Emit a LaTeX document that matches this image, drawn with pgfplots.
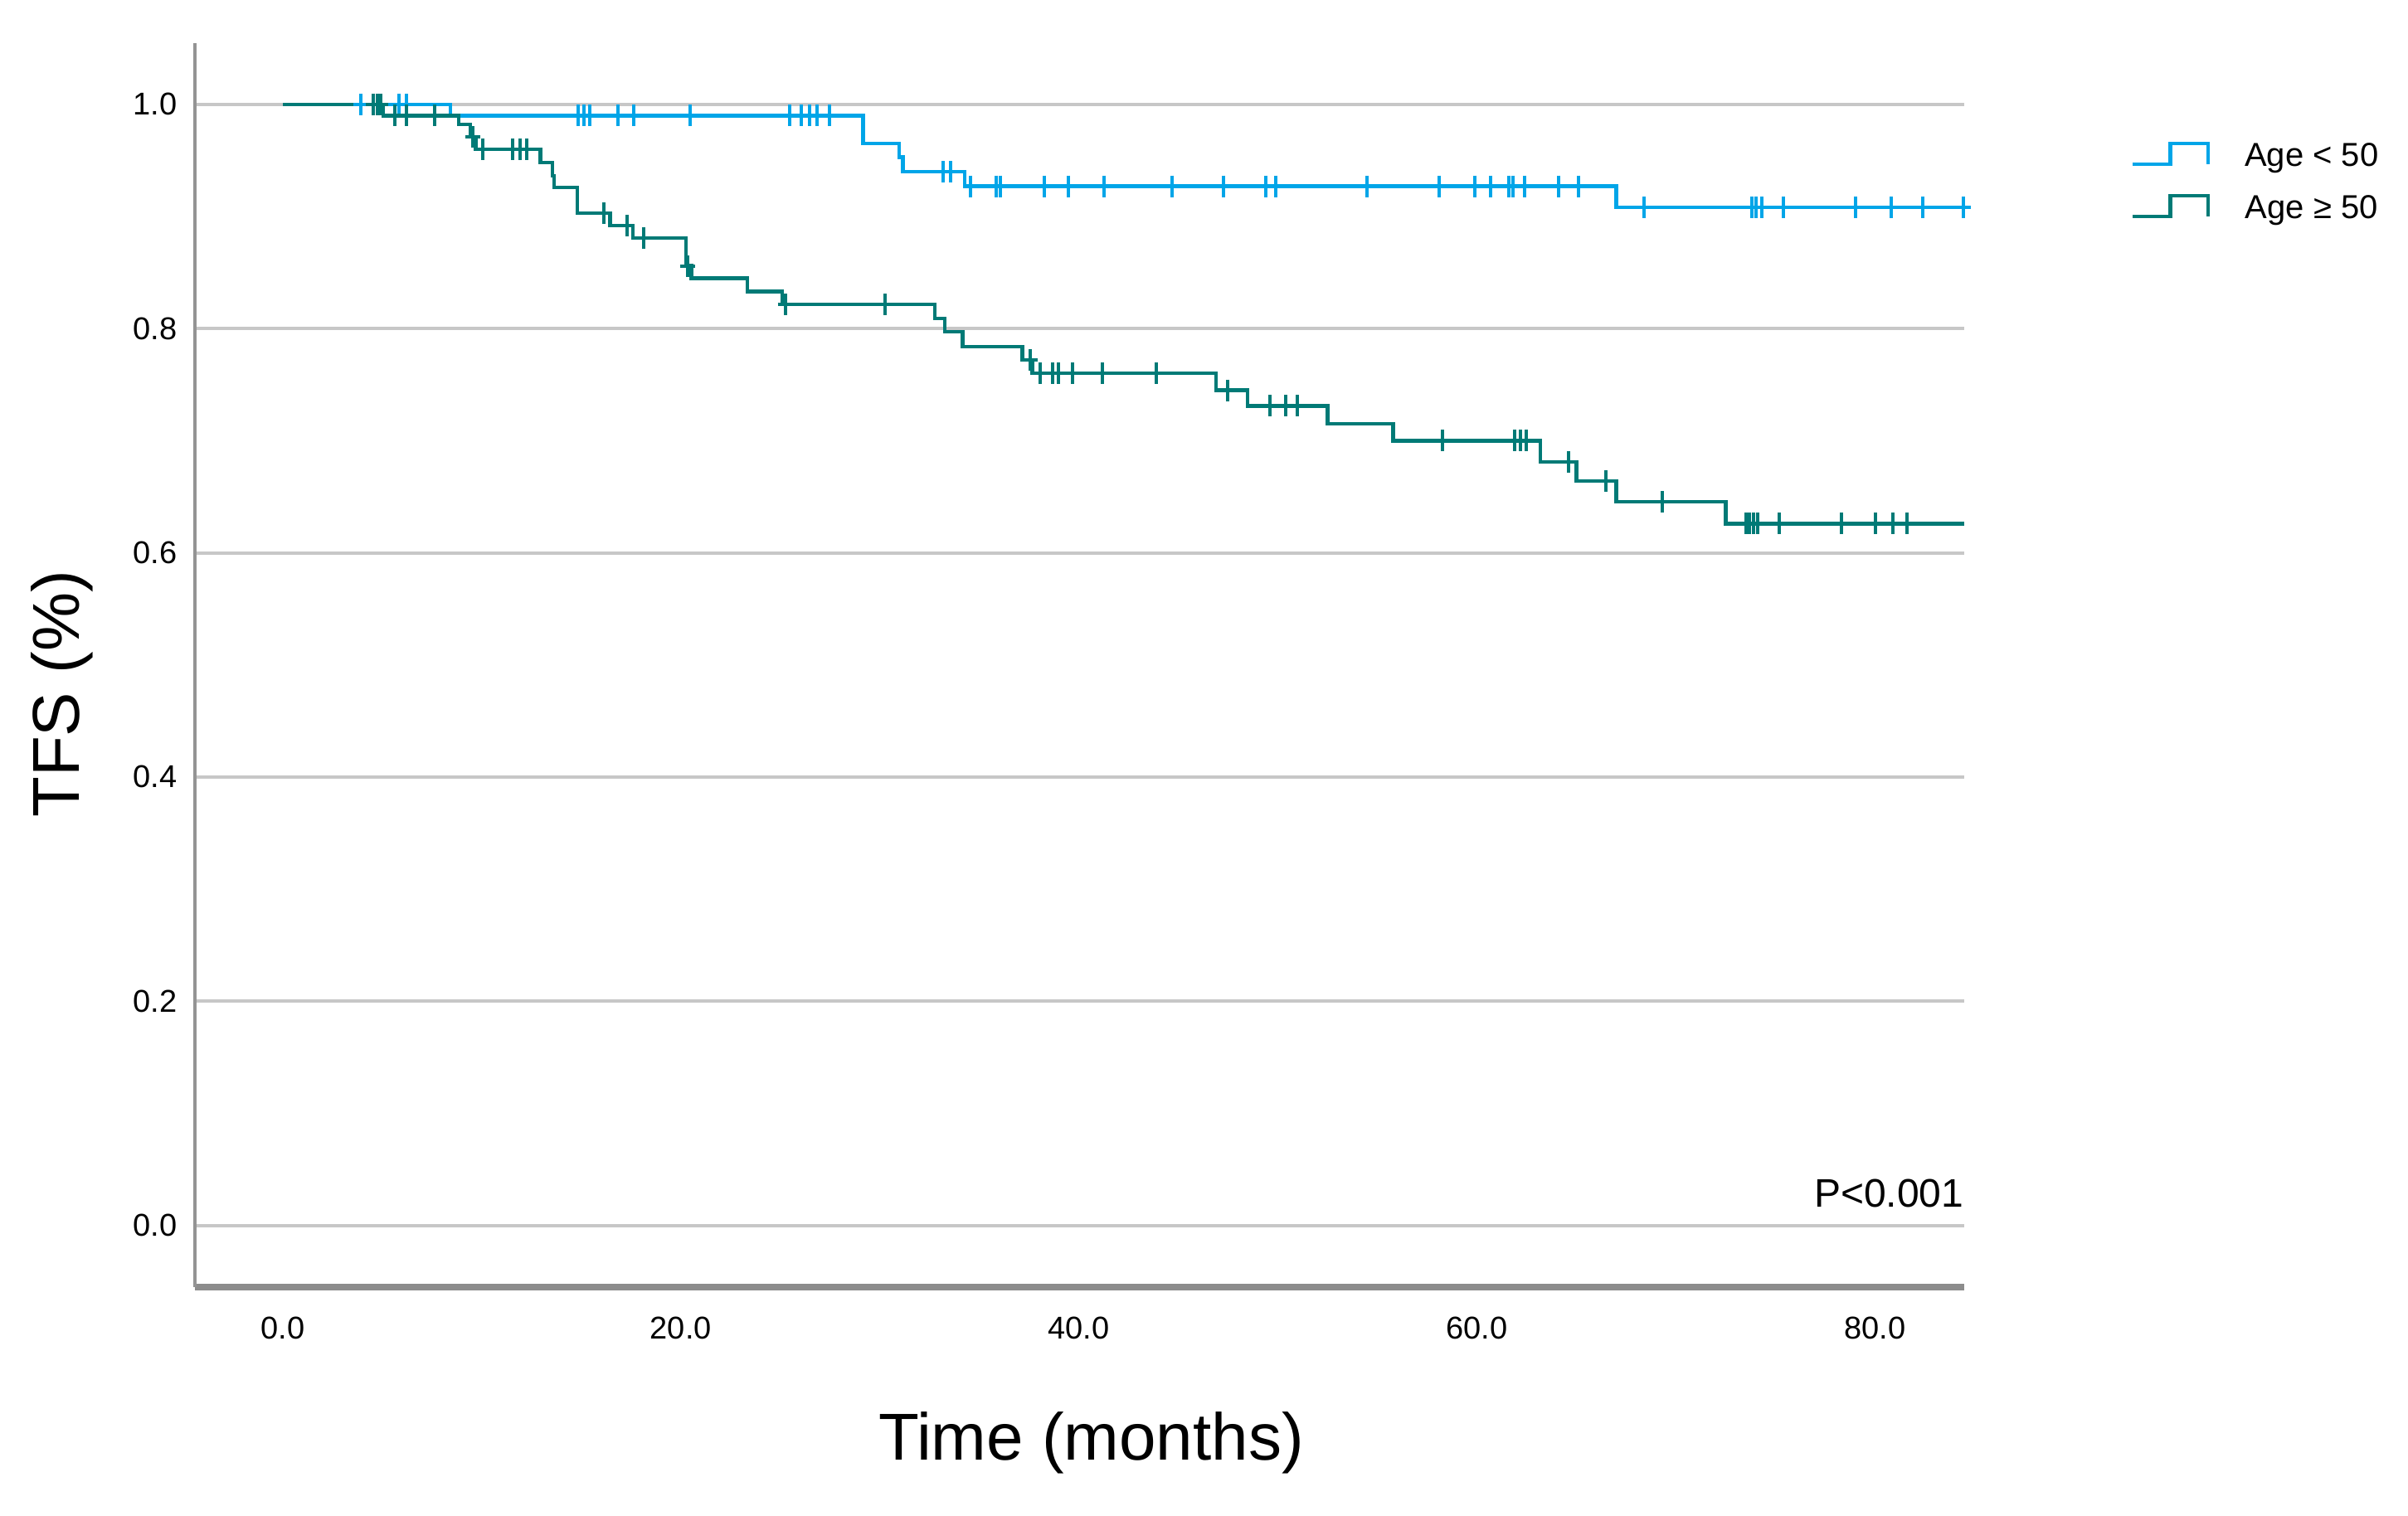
\documentclass[border=0pt]{standalone}
\usepackage{fontspec}
\setmainfont{Liberation Sans}
\usepackage{pgfplots}
\pgfplotsset{compat=1.18}
\definecolor{kmblue}{RGB}{0,165,232}
\definecolor{kmteal}{RGB}{0,122,118}
\begin{document}
\begin{tikzpicture}
\begin{axis}[
  scale only axis, width=533.25pt, height=375pt,
  xmin=-4.42, xmax=84.49, ymin=-0.0551, ymax=1.0547,
  axis x line*=bottom, axis y line*=left,
  x axis line style={-, draw=black!45, line width=1.8pt},
  y axis line style={-, draw=black!42, line width=1pt},
  xtick={0,20,40,60,80}, ytick={0,0.2,0.4,0.6,0.8,1.0},
  major tick length=0pt,
  ymajorgrids, major grid style={draw=black!22, line width=1pt},
  xticklabel={\pgfmathprintnumber[fixed,fixed zerofill,precision=1,assume math mode=true]{\tick}},
  yticklabel={\pgfmathprintnumber[fixed,fixed zerofill,precision=1,assume math mode=true]{\tick}},
  xticklabel style={font=\fontsize{9.5}{11}\selectfont, yshift=-5.4pt},
  yticklabel style={font=\fontsize{9.5}{11}\selectfont, xshift=-1.8pt},
  xlabel={Time (months)}, ylabel={TFS (\%)},
  every axis x label/.style={at={(axis description cs:0.5066,-0.1253)}, anchor=center, font=\fontsize{20}{24}\selectfont},
  every axis y label/.style={at={(axis description cs:-0.075,0.4767)}, anchor=center, rotate=90, font=\fontsize{20}{24}\selectfont},
  legend cell align=left,
  legend style={draw=none, fill=none, at={(axis description cs:1,1)}, anchor=north west, xshift=50pt, yshift=-28.85pt, inner sep=0pt, row sep=4.75pt, column sep=10.5pt, font=\fontsize{10}{12}\selectfont, nodes={inner sep=0pt, text height=8pt, text depth=3pt, anchor=base}},
  legend image code/.code={\draw[#1, line width=1.1pt] (0pt,0.5pt) -- (11.4pt,0.5pt) -- (11.4pt,6.75pt) -- (22.75pt,6.75pt) -- (22.75pt,0.5pt);},
]
% Age < 50
\addplot[const plot, color=kmblue, line width=1.1pt, mark=none] coordinates {
(0,1.0) (8.43,0.990) (29.15,0.965) (30.96,0.953) (31.16,0.940) (34.26,0.927) (67.0,0.908) (84.49,0.908)
};
\addlegendentry{Age < 50}
% Age >= 50
\addplot[const plot, color=kmteal, line width=1.1pt, mark=none] coordinates {
(0,1.0) (5.03,0.990) (8.83,0.982) (9.43,0.971) (9.69,0.960) (12.94,0.948) (13.54,0.9365) (13.64,0.926)
(14.79,0.903) (16.44,0.892) (17.60,0.881) (20.25,0.856) (20.52,0.845) (23.35,0.833) (25.10,0.8215)
(32.76,0.809) (33.26,0.797) (34.16,0.784) (37.16,0.772) (37.66,0.760) (46.88,0.745) (48.48,0.731)
(52.49,0.715) (55.79,0.700) (63.20,0.681) (65.00,0.664) (67.00,0.6455) (72.51,0.626) (84.49,0.626)
};
\addlegendentry{Age ≥ 50}
% censored, Age < 50
\addplot[forget plot, only marks, mark=+, mark size=3.25pt, color=kmblue, mark options={xscale=0.7, line width=1pt}] coordinates {
(3.93,1.0)(4.53,1.0)(4.73,1.0)(4.93,1.0)(5.83,1.0)(6.23,1.0)
(14.84,0.990)(15.14,0.990)(15.44,0.990)(16.84,0.990)(17.64,0.990)(20.45,0.990)(25.45,0.990)(26.05,0.990)(26.45,0.990)(26.85,0.990)(27.45,0.990)
(33.16,0.940)(33.56,0.940)
(34.56,0.927)(35.86,0.927)(36.06,0.927)(38.26,0.927)(39.46,0.927)(41.28,0.927)(44.68,0.927)(47.28,0.927)(49.38,0.927)(49.89,0.927)(54.49,0.927)(58.09,0.927)(59.90,0.927)(60.70,0.927)(61.60,0.927)(61.80,0.927)(62.40,0.927)(64.10,0.927)(65.10,0.927)
(68.40,0.908)(73.81,0.908)(74.01,0.908)(74.31,0.908)(75.41,0.908)(79.01,0.908)(80.82,0.908)(82.42,0.908)(84.45,0.908)
};
% censored, Age >= 50
\addplot[forget plot, only marks, mark=+, mark size=3.25pt, color=kmteal, mark options={xscale=0.7, line width=1pt}] coordinates {
(4.53,1.0)(4.73,1.0)(4.93,1.0)
(5.63,0.990)(6.23,0.990)(7.63,0.990)
(9.54,0.971)
(10.04,0.960)(11.54,0.960)(11.94,0.960)(12.24,0.960)
(16.14,0.903)(17.29,0.892)(18.14,0.881)(20.35,0.856)
(25.25,0.8215)(30.26,0.8215)
(37.56,0.772)
(38.06,0.760)(38.66,0.760)(38.96,0.760)(39.68,0.760)(41.18,0.760)(43.88,0.760)
(47.48,0.745)
(49.59,0.731)(50.39,0.731)(50.99,0.731)
(58.29,0.700)(61.90,0.700)(62.20,0.700)(62.50,0.700)
(64.60,0.681)(66.50,0.664)(69.30,0.6455)
(73.51,0.626)(73.71,0.626)(73.91,0.626)(74.11,0.626)(75.21,0.626)(78.31,0.626)(80.02,0.626)(80.92,0.626)(81.62,0.626)
};
\node[anchor=east, inner sep=0pt, font=\fontsize{12}{14}\selectfont] at (axis cs:84.49,0.0288) {P<0.001};
\end{axis}
\pgfresetboundingbox
\path ([shift={(-58.75pt,-69pt)}]current axis.south west) rectangle ([shift={(133.75pt,13pt)}]current axis.north east);
\end{tikzpicture}
\end{document}
